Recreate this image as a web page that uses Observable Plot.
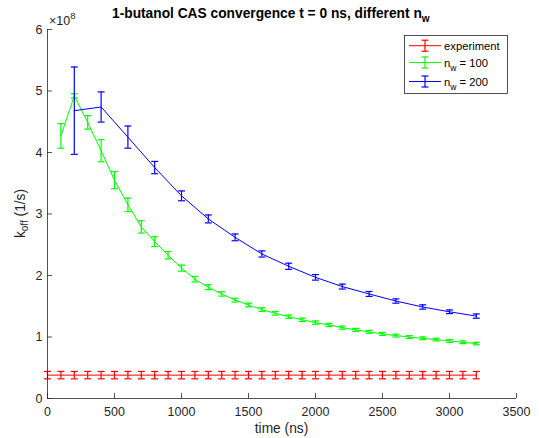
<!DOCTYPE html>
<html><head><meta charset="utf-8">
<script src="https://cdn.jsdelivr.net/npm/d3@7"></script>
<script src="https://cdn.jsdelivr.net/npm/@observablehq/plot@0.6"></script>
<style>body{margin:0;background:#fff} svg{display:block}</style>
</head><body><div id="chart"></div>
<script>
// values in units of 1e8 s^-1
const expTime  = [0,100,200,300,400,500,600,700,800,900,1000,1100,1200,1300,1400,1500,1600,1700,1800,1900,2000,2100,2200,2300,2400,2500,2600,2700,2800,2900,3000,3100,3200];
const expValue = [0.38,0.38,0.38,0.38,0.38,0.38,0.38,0.38,0.38,0.38,0.38,0.38,0.38,0.38,0.38,0.38,0.38,0.38,0.38,0.38,0.38,0.38,0.38,0.38,0.38,0.38,0.38,0.38,0.38,0.38,0.38,0.38,0.38];
const expErr   = [0.06,0.06,0.06,0.06,0.06,0.06,0.06,0.06,0.06,0.06,0.06,0.06,0.06,0.06,0.06,0.06,0.06,0.06,0.06,0.06,0.06,0.06,0.06,0.06,0.06,0.06,0.06,0.06,0.06,0.06,0.06,0.06,0.06];

const n100Time  = [100,200,300,400,500,600,700,800,900,1000,1100,1200,1300,1400,1500,1600,1700,1800,1900,2000,2100,2200,2300,2400,2500,2600,2700,2800,2900,3000,3100,3200];
const n100Value = [4.27,4.92,4.49,4.03,3.55,3.15,2.79,2.55,2.33,2.12,1.94,1.81,1.70,1.60,1.52,1.445,1.385,1.33,1.28,1.234,1.196,1.152,1.115,1.083,1.05,1.023,1.0,0.979,0.958,0.936,0.914,0.893];
const n100Err   = [0.20,0.035,0.11,0.18,0.14,0.11,0.10,0.08,0.06,0.05,0.045,0.04,0.035,0.03,0.03,0.03,0.028,0.028,0.027,0.027,0.026,0.025,0.025,0.024,0.024,0.023,0.023,0.022,0.022,0.021,0.021,0.02];

const n200Time  = [200,400,600,800,1000,1200,1400,1600,1800,2000,2200,2400,2600,2800,3000,3200];
const n200Value = [4.68,4.74,4.25,3.755,3.295,2.92,2.62,2.35,2.15,1.97,1.82,1.70,1.585,1.488,1.41,1.34];
const n200Err   = [0.71,0.245,0.18,0.10,0.08,0.065,0.055,0.05,0.05,0.045,0.04,0.04,0.035,0.035,0.03,0.035];

const xTicks = [0,500,1000,1500,2000,2500,3000,3500];
const yTicks = [0,1,2,3,4,5,6];

const series = [
  {name: "experiment", color: "#ff0000", rows: expTime.map((t,i)=>({t, v: expValue[i], e: expErr[i]}))},
  {name: "100", color: "#00ff00", rows: n100Time.map((t,i)=>({t, v: n100Value[i], e: n100Err[i]}))},
  {name: "200", color: "#0000ff", rows: n200Time.map((t,i)=>({t, v: n200Value[i], e: n200Err[i]}))}
];

const W = 539, H = 438, mL = 47, mR = 23, mT = 29, mB = 40;
const plotW = W - mL - mR, plotH = H - mT - mB;
const axisColor = "#262626";
const font = "'Liberation Sans', Arial, Helvetica, sans-serif";

const cap = {draw(ctx, size) { const w = Math.sqrt(size / Math.PI); ctx.moveTo(-w, 0); ctx.lineTo(w, 0); }};

const marks = [];
for (const s of series) {
  marks.push(Plot.line(s.rows, {x: "t", y: "v", stroke: s.color, strokeWidth: 1}));
  marks.push(Plot.ruleX(s.rows, {x: "t", y1: d => d.v - d.e, y2: d => d.v + d.e, stroke: s.color, strokeWidth: 1.2}));
  marks.push(Plot.dot(s.rows, {x: "t", y: d => d.v - d.e, symbol: cap, r: 3.5, fill: "none", stroke: s.color, strokeWidth: 1.2}));
  marks.push(Plot.dot(s.rows, {x: "t", y: d => d.v + d.e, symbol: cap, r: 3.5, fill: "none", stroke: s.color, strokeWidth: 1.2}));
}

const svg = Plot.plot({
  width: W, height: H,
  marginLeft: mL, marginRight: mR, marginTop: mT, marginBottom: mB,
  style: {fontFamily: font, fontSize: "12.5px", color: axisColor, background: "#fff", overflow: "visible"},
  x: {domain: [0, 3500]},
  y: {domain: [0, 6]},
  marks: [
    Plot.ruleX(xTicks, {stroke: axisColor, strokeWidth: 0.8, insetTop: plotH - 5}),
    Plot.ruleY(yTicks, {stroke: axisColor, strokeWidth: 0.8, insetRight: plotW - 5}),
    ...marks,
    Plot.ruleY([0], {stroke: axisColor, strokeWidth: 0.8}),
    Plot.ruleX([0], {stroke: axisColor, strokeWidth: 0.8}),
    Plot.axisX({ticks: xTicks, tickSize: 0, tickPadding: 9, label: null, fill: axisColor, tickFormat: d => String(d)}),
    Plot.axisY({ticks: yTicks, tickSize: 0, tickPadding: 5, label: null, fill: axisColor, tickFormat: d => String(d)})
  ]
});
document.getElementById("chart").appendChild(svg);

const g = d3.select(svg).append("g").attr("font-family", font).attr("fill", axisColor).attr("text-anchor", "start");

// title
const title = g.append("text").attr("x", 112).attr("y", 18).attr("font-size", 13.75).attr("font-weight", "bold").attr("fill", "#000");
title.append("tspan").text("1-butanol CAS convergence t = 0 ns, different n");
title.append("tspan").attr("dy", 4).attr("font-size", 10).text("w");

// multiplier
const mult = g.append("text").attr("x", 49).attr("y", 25).attr("font-size", 12.5);
mult.append("tspan").text("\u00d710");
mult.append("tspan").attr("dy", -6).attr("font-size", 9.5).text("8");

// x label
g.append("text").attr("x", (mL + W - mR) / 2).attr("y", 433).attr("text-anchor", "middle").attr("font-size", 13.75).text("time (ns)");

// y label
const yl = g.append("text").attr("transform", `translate(25,${mT + plotH / 2}) rotate(-90)`).attr("text-anchor", "middle").attr("font-size", 13.75);
yl.append("tspan").text("k");
yl.append("tspan").attr("dy", 3).attr("font-size", 10).text("off");
yl.append("tspan").attr("dy", -3).text(" (1/s)");

// legend
const lg = g.append("g");
lg.append("rect").attr("x", 404.5).attr("y", 35.5).attr("width", 103).attr("height", 58).attr("fill", "#fff").attr("stroke", axisColor).attr("stroke-width", 0.8);
const legendRows = [
  {s: series[0], y: 45.7, label: null},
  {s: series[1], y: 62.5, label: "100"},
  {s: series[2], y: 81.5, label: "200"}
];
for (const r of legendRows) {
  const c = r.s.color;
  lg.append("line").attr("x1", 409).attr("x2", 441).attr("y1", r.y).attr("y2", r.y).attr("stroke", c).attr("stroke-width", 1);
  lg.append("line").attr("x1", 425).attr("x2", 425).attr("y1", r.y - 5.5).attr("y2", r.y + 5.5).attr("stroke", c).attr("stroke-width", 1.2);
  lg.append("line").attr("x1", 421.5).attr("x2", 428.5).attr("y1", r.y - 5.5).attr("y2", r.y - 5.5).attr("stroke", c).attr("stroke-width", 1.2);
  lg.append("line").attr("x1", 421.5).attr("x2", 428.5).attr("y1", r.y + 5.5).attr("y2", r.y + 5.5).attr("stroke", c).attr("stroke-width", 1.2);
  const t = lg.append("text").attr("x", 444).attr("y", r.y + 4).attr("font-size", 11.25).attr("fill", "#000");
  if (r.label === null) {
    t.text(r.s.name);
  } else {
    t.append("tspan").text("n");
    t.append("tspan").attr("dy", 4).attr("font-size", 8.5).text("w");
    t.append("tspan").attr("dy", -4).text(" = " + r.label);
  }
}
</script>
</body></html>
